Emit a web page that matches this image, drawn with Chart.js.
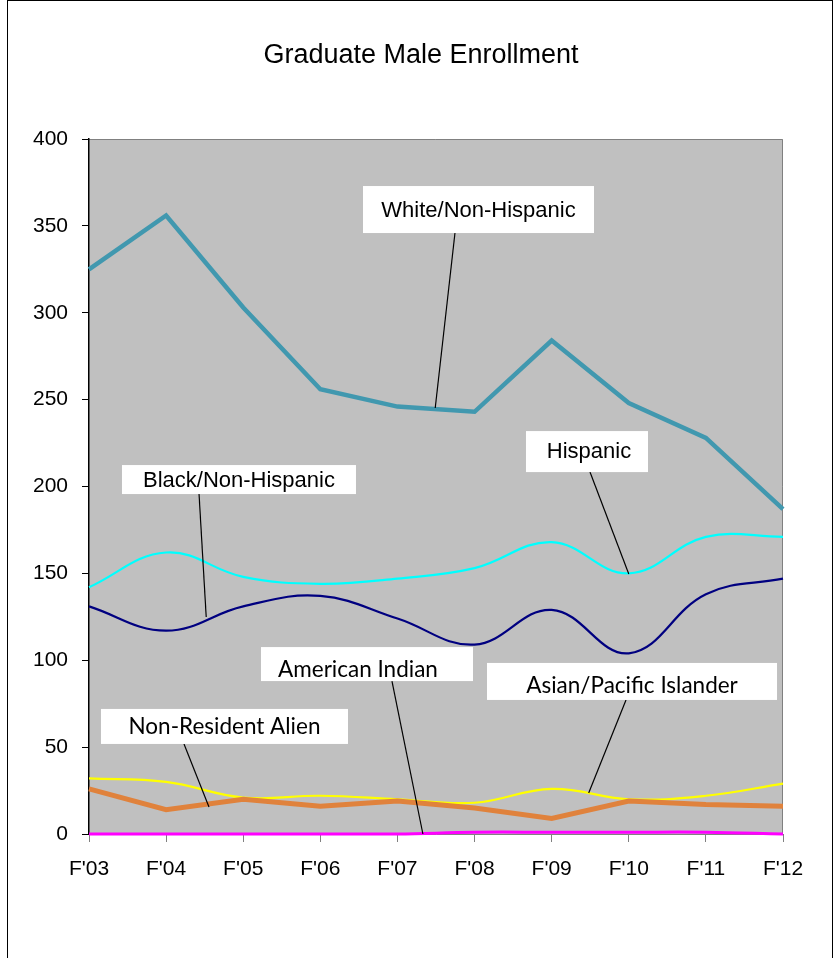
<!DOCTYPE html>
<html>
<head>
<meta charset="utf-8">
<script src="https://cdn.jsdelivr.net/npm/chart.js@4/dist/chart.umd.min.js"></script>
<style>
  html, body { margin: 0; padding: 0; background: #fff; }
  #frame { position: absolute; left: 7px; top: 0; width: 826px; height: 1000px; box-sizing: border-box; border: 1px solid #000; }
  #wrap { position: absolute; left: 0; top: 0; width: 833px; height: 958px; }
  canvas { display: block; }
</style>
</head>
<body>
<div id="frame"></div>
<div id="wrap"><canvas id="c" width="833" height="958"></canvas></div>
<script>
// ---- data ----
const categories = ["F'03", "F'04", "F'05", "F'06", "F'07", "F'08", "F'09", "F'10", "F'11", "F'12"];
const whiteNonHispanic = [325, 356, 303, 256, 246, 243, 284, 248, 228, 187];
const hispanic = [142, 162, 148, 144, 147, 153, 168, 150, 171, 171];
const blackNonHispanic = [131, 117, 131, 137, 124, 109, 129, 104, 138, 147];
const asianPacificIslander = [32, 30, 21, 22, 20, 18, 26, 20, 22, 29];
const nonResidentAlien = [26, 14, 20, 16, 19, 15, 9, 19, 17, 16];
const americanIndian = [0, 0, 0, 0, 0, 1, 1, 1, 1, 0];
const yMin = 0, yMax = 400, yStep = 50;
const chartTitle = "Graduate Male Enrollment";
const seriesNames = ["White/Non-Hispanic", "Hispanic", "Black/Non-Hispanic", "American Indian", "Asian/Pacific Islander", "Non-Resident Alien"];

// ---- label callouts (anchored in data space) ----
const ARIAL = '"Liberation Sans", Arial, sans-serif';
const CAL = 'Lato, "Open Sans", sans-serif';
const callouts = [
  { text: seriesNames[0], box: [5.051, 359.4], w: 231, h: 47, font: '22px ' + ARIAL, cap: 15.8, dx: 0, dy: 0, from: 4.746, to: [4.49, 245.2] },
  { text: seriesNames[1], box: [6.458, 220.1], w: 122, h: 41, font: '22px ' + ARIAL, cap: 15.8, dx: 2, dy: -1, from: 6.497, to: [7.0, 149.6] },
  { text: seriesNames[2], box: [1.945, 204.0], w: 234, h: 29, font: '22px ' + ARIAL, cap: 15.8, dx: 0, dy: 0, from: 1.427, to: [1.52, 124.9] },
  { text: seriesNames[3], box: [3.605, 97.8], w: 212, h: 34, font: '22.5px ' + CAL, cap: 14.5, dx: -9, dy: 6, from: 3.929, to: [4.33, 0] },
  { text: seriesNames[4], box: [7.042, 87.8], w: 290, h: 37, font: '22.5px ' + CAL, cap: 14.5, dx: 0, dy: 4.5, from: 6.964, to: [6.48, 23.6] },
  { text: seriesNames[5], box: [1.757, 61.9], w: 247, h: 35, font: '22.5px ' + CAL, cap: 14.5, dx: 0, dy: 0.5, from: 1.232, to: [1.556, 15.5] }
];

function xAt(chart, idx) {
  const s = chart.scales.x;
  const i0 = Math.floor(idx), f = idx - i0;
  const p0 = s.getPixelForValue(i0);
  const p1 = s.getPixelForValue(Math.min(i0 + 1, categories.length - 1));
  return p0 + (p1 - p0) * f;
}

const backgroundPlugin = {
  id: 'plotBg',
  beforeDraw(chart) {
    const { ctx, chartArea: a } = chart;
    ctx.save();
    ctx.fillStyle = '#C0C0C0';
    ctx.fillRect(a.left, a.top, a.right - a.left, a.bottom - a.top);
    ctx.strokeStyle = '#808080';
    ctx.lineWidth = 1;
    ctx.beginPath();
    ctx.moveTo(a.left, a.top + 0.5);
    ctx.lineTo(a.right - 0.5, a.top + 0.5);
    ctx.lineTo(a.right - 0.5, a.bottom);
    ctx.stroke();
    // title
    ctx.fillStyle = '#000';
    ctx.font = '27px ' + ARIAL;
    ctx.textAlign = 'center';
    ctx.textBaseline = 'alphabetic';
    ctx.fillText(chartTitle, 421, 63);
    ctx.restore();
  }
};

const calloutPlugin = {
  id: 'callouts',
  afterDatasetsDraw(chart) {
    const { ctx } = chart;
    const ys = chart.scales.y;
    ctx.save();
    callouts.forEach(c => {
      const cx = xAt(chart, c.box[0]);
      const cy = ys.getPixelForValue(c.box[1]);
      const left = cx - c.w / 2, top = cy - c.h / 2;
      // leader
      ctx.strokeStyle = '#000';
      ctx.lineWidth = 1.2;
      ctx.beginPath();
      ctx.moveTo(xAt(chart, c.from), top + c.h);
      ctx.lineTo(xAt(chart, c.to[0]), ys.getPixelForValue(c.to[1]));
      ctx.stroke();
      // box
      ctx.fillStyle = '#fff';
      ctx.fillRect(left, top, c.w, c.h);
      // text
      ctx.fillStyle = '#000';
      ctx.font = c.font;
      ctx.textAlign = 'center';
      ctx.textBaseline = 'alphabetic';
      ctx.fillText(c.text, cx + c.dx, cy + c.dy + c.cap / 2);
    });
    ctx.restore();
  }
};

const ds = (label, data, color, width, tension, order) => ({
  label, data, borderColor: color, backgroundColor: color, borderWidth: width,
  tension, pointRadius: 0, pointHoverRadius: 0, fill: false, order, clip: 4,
  borderCapStyle: 'butt', borderJoinStyle: 'miter'
});

new Chart(document.getElementById('c'), {
  type: 'line',
  data: {
    labels: categories,
    datasets: [
      ds(seriesNames[0], whiteNonHispanic, '#4198AF', 4.5, 0, 6),
      ds(seriesNames[1], hispanic, '#00FFFF', 2.2, 0.4, 5),
      ds(seriesNames[2], blackNonHispanic, '#000080', 2.2, 0.4, 4),
      ds(seriesNames[4], asianPacificIslander, '#FFFF00', 2.2, 0.4, 3),
      ds(seriesNames[5], nonResidentAlien, '#E0823C', 5, 0, 2),
      ds(seriesNames[3], americanIndian, '#FF00FF', 3, 0.4, 1)
    ]
  },
  options: {
    responsive: false,
    animation: false,
    events: [],
    layout: { padding: { left: 0, right: 50, top: 139, bottom: 0 } },
    plugins: { legend: { display: false }, title: { display: false }, tooltip: { enabled: false } },
    scales: {
      x: {
        offset: false,
        grid: { display: true, drawOnChartArea: false, drawTicks: true, tickLength: 8, color: '#808080', tickColor: '#808080' },
        border: { display: true, color: '#808080', width: 1 },
        ticks: { color: '#000', font: { family: '"Liberation Sans", Arial, sans-serif', size: 21 }, padding: 15, maxRotation: 0, autoSkip: false },
        afterFit(s) { s.height = 124; }
      },
      y: {
        min: yMin, max: yMax,
        grid: { display: true, drawOnChartArea: false, drawTicks: true, tickLength: 7, color: '#000', tickColor: '#000' },
        border: { display: true, color: '#000', width: 1.5 },
        ticks: { stepSize: yStep, color: '#000', font: { family: '"Liberation Sans", Arial, sans-serif', size: 21 }, padding: 14 },
        afterFit(s) { s.width = 89; }
      }
    }
  },
  plugins: [backgroundPlugin, calloutPlugin]
});
</script>
</body>
</html>
